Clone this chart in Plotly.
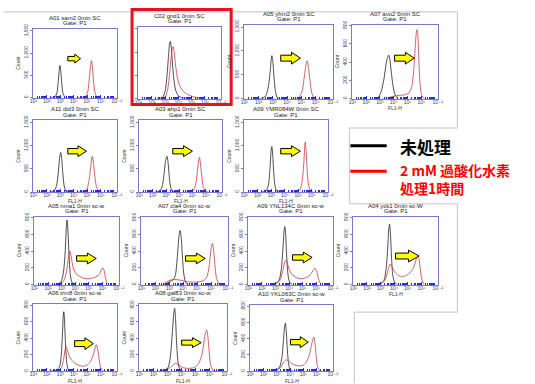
import plotly.graph_objects as go

W, H = 535, 384

# ---------------- data (FL1-H positions as log10 values, counts) ----------------
TITLES = [
    "A01 sam2 0min SC", "C02 gnd1 0min SC", "A05 yhm2 0min SC", "A07 avo2 0min SC",
    "A11 did3 0min SC", "A03 ahp1 0min SC", "A09 YMR084W 0min SC",
    "A05 nma1 0min sc-w", "A07 cla4 0min sc-w", "A09 YNL134C 0min sc-w", "A04 yck1 0min sc-W",
    "A06 trm8 0min sc-w", "A08 gal83 0min sc-w", "A10 YKL063C 0min sc-w",
]
GATE = "Gate: P1"

X_TICK_EXP = [1, 2, 3, 4, 5, 6, 7.2]
X_TICK_TEXT = ["10¹", "10²", "10³", "10⁴", "10⁵", "10⁶", "10⁷·²"]
Y_TICKS_BIG = [0, 500, 1000, 1500]
Y_TICKS_BIG_TEXT = ["0", "500", "1,000", "1,500"]
Y_TICKS_SMALL = [0, 200, 400, 600, 800]
Y_TICKS_SMALL_TEXT = ["0", "200", "400", "600", "800"]

A01_BLACK_X = [2.3, 2.6, 2.75, 2.85, 2.92, 2.97, 3.03, 3.1, 3.2, 3.35, 3.5]
A01_BLACK_Y = [0, 15, 110, 380, 640, 720, 600, 330, 90, 5, 0]
A01_RED_X = [4.3, 4.7, 4.9, 5.05, 5.15, 5.25, 5.31, 5.38, 5.45, 5.55, 5.7, 6.0]
A01_RED_Y = [0, 5, 30, 150, 420, 720, 830, 700, 430, 150, 20, 0]

C02_BLACK_X = [2.4, 2.8, 3.0, 3.15, 3.27, 3.35, 3.4, 3.47, 3.55, 3.65, 3.8, 4.0, 4.3, 4.8]
C02_BLACK_Y = [0, 20, 150, 500, 950, 1200, 1230, 1100, 800, 450, 180, 60, 15, 0]
C02_RED_X = [2.6, 3.0, 3.2, 3.35, 3.45, 3.55, 3.62, 3.7, 3.8, 3.95, 4.15, 4.4, 4.7, 5.0, 5.4, 5.9]
C02_RED_Y = [0, 30, 200, 550, 880, 1080, 1120, 980, 700, 420, 250, 150, 90, 50, 20, 0]

A05_BLACK_X = [2.0, 2.3, 2.5, 2.65, 2.78, 2.87, 2.93, 3.0, 3.08, 3.18, 3.3, 3.5]
A05_BLACK_Y = [0, 10, 60, 200, 480, 780, 900, 760, 440, 150, 20, 0]
A05_RED_X = [4.3, 4.6, 4.85, 5.05, 5.2, 5.33, 5.41, 5.5, 5.6, 5.72, 5.85, 6.1]
A05_RED_Y = [0, 5, 30, 150, 450, 720, 790, 650, 380, 130, 25, 0]

A07_BLACK_X = [2.6, 2.9, 3.1, 3.3, 3.45, 3.55, 3.64, 3.72, 3.82, 3.95, 4.1, 4.3]
A07_BLACK_Y = [0, 15, 80, 220, 380, 450, 476, 430, 300, 140, 40, 0]
A07_RED_X = [3.2, 3.6, 4.0, 4.4, 4.8, 5.1, 5.3, 5.45, 5.58, 5.66, 5.71, 5.76, 5.83, 5.92, 6.05, 6.25]
A07_RED_Y = [0, 10, 25, 35, 40, 60, 120, 300, 600, 740, 757, 680, 420, 150, 30, 0]

A11_BLACK_X = [2.2, 2.5, 2.7, 2.85, 2.95, 3.03, 3.1, 3.18, 3.28, 3.4, 3.6]
A11_BLACK_Y = [0, 15, 120, 420, 750, 850, 720, 420, 140, 20, 0]
A11_RED_X = [4.3, 4.7, 4.95, 5.1, 5.25, 5.33, 5.38, 5.45, 5.55, 5.68, 5.85, 6.1]
A11_RED_Y = [0, 10, 50, 200, 520, 730, 770, 650, 380, 120, 20, 0]

A03_BLACK_X = [2.2, 2.5, 2.7, 2.85, 2.97, 3.07, 3.15, 3.23, 3.33, 3.45, 3.65]
A03_BLACK_Y = [0, 15, 110, 380, 680, 770, 650, 380, 130, 20, 0]
A03_RED_X = [4.4, 4.85, 5.1, 5.25, 5.38, 5.47, 5.52, 5.58, 5.68, 5.8, 5.97, 6.2]
A03_RED_Y = [0, 10, 50, 200, 500, 710, 750, 640, 370, 120, 20, 0]

A09Y_BLACK_X = [2.3, 2.6, 2.78, 2.9, 2.98, 3.04, 3.1, 3.17, 3.27, 3.4, 3.6]
A09Y_BLACK_Y = [0, 20, 150, 500, 880, 980, 820, 460, 140, 20, 0]
A09Y_RED_X = [4.5, 4.95, 5.15, 5.3, 5.42, 5.48, 5.52, 5.57, 5.65, 5.75, 5.9, 6.1]
A09Y_RED_Y = [0, 10, 60, 250, 650, 980, 1080, 950, 550, 180, 30, 0]

NMA1_BLACK_X = [2.4, 2.8, 3.0, 3.15, 3.27, 3.35, 3.4, 3.46, 3.55, 3.65, 3.8, 4.0]
NMA1_BLACK_Y = [0, 10, 50, 170, 420, 700, 770, 650, 330, 100, 15, 0]
NMA1_RED_X = [2.6, 3.0, 3.2, 3.35, 3.5, 3.6, 3.7, 3.85, 4.05, 4.3, 4.6, 4.9, 5.2, 5.5,
              5.75, 5.92, 6.04, 6.12, 6.22, 6.35]
NMA1_RED_Y = [0, 15, 60, 150, 320, 400, 330, 200, 130, 100, 75, 70, 75, 90,
              120, 175, 200, 170, 80, 0]

CLA4_BLACK_X = [2.6, 2.9, 3.1, 3.3, 3.45, 3.58, 3.7, 3.78, 3.86, 3.95, 4.05, 4.2, 4.4]
CLA4_BLACK_Y = [0, 20, 40, 60, 120, 330, 580, 645, 560, 320, 120, 20, 0]
CLA4_RED_X = [2.5, 2.8, 3.1, 3.4, 3.7, 4.0, 4.3, 4.6, 4.9, 5.2, 5.5, 5.7, 5.85, 5.97,
              6.05, 6.1, 6.17, 6.27, 6.4, 6.6]
CLA4_RED_Y = [0, 30, 55, 60, 55, 45, 35, 30, 30, 35, 50, 90, 200, 380,
              470, 490, 430, 250, 70, 0]

YNL_BLACK_X = [2.6, 3.0, 3.25, 3.42, 3.55, 3.63, 3.68, 3.74, 3.82, 3.92, 4.05, 4.25]
YNL_BLACK_Y = [0, 10, 50, 180, 450, 650, 690, 600, 330, 110, 20, 0]
YNL_RED_X = [2.7, 3.1, 3.35, 3.55, 3.68, 3.75, 3.85, 4.0, 4.2, 4.5, 4.8, 5.1, 5.4, 5.65,
             5.82, 5.93, 6.02, 6.12, 6.25, 6.4]
YNL_RED_Y = [0, 15, 60, 180, 270, 290, 260, 180, 120, 85, 70, 75, 95, 140,
             180, 190, 160, 90, 25, 0]

YCK1_BLACK_X = [2.6, 3.0, 3.25, 3.4, 3.53, 3.61, 3.66, 3.72, 3.8, 3.9, 4.05, 4.25]
YCK1_BLACK_Y = [0, 10, 50, 180, 450, 680, 720, 620, 340, 110, 20, 0]
YCK1_RED_X = [2.7, 3.1, 3.35, 3.55, 3.7, 3.85, 4.05, 4.3, 4.6, 4.9, 5.15, 5.4, 5.58,
              5.7, 5.75, 5.82, 5.92, 6.05, 6.2]
YCK1_RED_Y = [0, 15, 60, 170, 245, 210, 150, 110, 95, 110, 140, 190, 280,
              340, 350, 310, 180, 50, 0]

TRM8_BLACK_X = [2.3, 2.7, 2.95, 3.08, 3.17, 3.22, 3.26, 3.31, 3.38, 3.48, 3.6, 3.8]
TRM8_BLACK_Y = [0, 10, 60, 220, 500, 680, 720, 620, 330, 100, 15, 0]
TRM8_RED_X = [2.5, 2.9, 3.1, 3.25, 3.35, 3.42, 3.5, 3.65, 3.85, 4.1, 4.4, 4.7, 5.0, 5.25,
              5.45, 5.6, 5.68, 5.76, 5.88, 6.0, 6.2]
TRM8_RED_Y = [0, 10, 50, 150, 260, 300, 270, 190, 130, 95, 70, 60, 75, 120,
              200, 290, 320, 280, 150, 40, 0]

GAL83_BLACK_X = [2.4, 2.8, 3.05, 3.2, 3.33, 3.44, 3.5, 3.56, 3.64, 3.74, 3.88, 4.1]
GAL83_BLACK_Y = [0, 10, 50, 180, 450, 700, 760, 650, 340, 110, 20, 0]
GAL83_RED_X = [2.5, 2.9, 3.2, 3.4, 3.57, 3.75, 4.0, 4.3, 4.6, 4.9, 5.15, 5.35, 5.5,
               5.62, 5.72, 5.78, 5.84, 5.93, 6.05, 6.25]
GAL83_RED_Y = [0, 15, 45, 80, 95, 80, 50, 35, 35, 45, 80, 150, 260,
               400, 480, 500, 450, 280, 80, 0]

YKL_BLACK_X = [2.5, 2.9, 3.2, 3.38, 3.5, 3.59, 3.64, 3.7, 3.78, 3.88, 4.0, 4.2]
YKL_BLACK_Y = [0, 10, 50, 170, 400, 560, 590, 500, 280, 90, 15, 0]
YKL_RED_X = [2.6, 3.0, 3.3, 3.5, 3.7, 3.9, 4.15, 4.45, 4.75, 5.0, 5.2, 5.4, 5.55,
             5.67, 5.74, 5.78, 5.84, 5.93, 6.05, 6.25]
YKL_RED_Y = [0, 10, 50, 110, 140, 120, 90, 70, 65, 75, 110, 180, 280,
             370, 410, 420, 380, 230, 60, 0]

LEGEND_LABELS = ["未処理", "2 mM 過酸化水素", "処理1時間"]

# ---------------- layout helpers (pixel boxes) ----------------
def px(x):
    return x / W


def py(y):
    return 1 - y / H


BLACK_SERIES = [
    (A01_BLACK_X, A01_BLACK_Y), (C02_BLACK_X, C02_BLACK_Y), (A05_BLACK_X, A05_BLACK_Y),
    (A07_BLACK_X, A07_BLACK_Y), (A11_BLACK_X, A11_BLACK_Y), (A03_BLACK_X, A03_BLACK_Y),
    (A09Y_BLACK_X, A09Y_BLACK_Y), (NMA1_BLACK_X, NMA1_BLACK_Y), (CLA4_BLACK_X, CLA4_BLACK_Y),
    (YNL_BLACK_X, YNL_BLACK_Y), (YCK1_BLACK_X, YCK1_BLACK_Y), (TRM8_BLACK_X, TRM8_BLACK_Y),
    (GAL83_BLACK_X, GAL83_BLACK_Y), (YKL_BLACK_X, YKL_BLACK_Y),
]
RED_SERIES = [
    (A01_RED_X, A01_RED_Y), (C02_RED_X, C02_RED_Y), (A05_RED_X, A05_RED_Y),
    (A07_RED_X, A07_RED_Y), (A11_RED_X, A11_RED_Y), (A03_RED_X, A03_RED_Y),
    (A09Y_RED_X, A09Y_RED_Y), (NMA1_RED_X, NMA1_RED_Y), (CLA4_RED_X, CLA4_RED_Y),
    (YNL_RED_X, YNL_RED_Y), (YCK1_RED_X, YCK1_RED_Y), (TRM8_RED_X, TRM8_RED_Y),
    (GAL83_RED_X, GAL83_RED_Y), (YKL_RED_X, YKL_RED_Y),
]

# plot boxes in pixels: (left, right, top, bottom)
BOXES = [
    (30, 115, 24, 94), (137, 221, 22, 95), (245, 335, 20, 95), (355, 442, 20, 95),
    (30, 115, 117, 190), (138, 222, 117, 190), (245, 330, 117, 190),
    (31, 117, 215, 284), (140, 228, 215, 284), (249, 335, 215, 284), (356, 442, 215, 284),
    (30, 115, 304, 372), (138, 227, 304, 372), (251, 335, 305, 372),
]
BIG_SCALE = [True, True, True, False, True, True, True,
             False, False, False, False, False, False, False]
SHOW_FL1H = [False, False, False, True, True, True, True,
             False, False, False, True, True, True, True]
SHOW_YLABELS = [True, False, True, True, True, True, True,
                True, True, True, True, True, True, True]
ARROWS = [
    (65, 50, 78, 59), None, (282, 48, 302, 60), (398, 48, 418, 60),
    (65, 143, 84, 154), (172, 143, 192, 154), (282, 143, 302, 154),
    (74, 252, 94, 263), (185, 252, 205, 263), (294, 251, 314, 262), (399, 249, 423, 261),
    (72, 338, 91, 350), (181, 338, 201, 348), (292, 337, 310, 348),
]

AXIS_COLOR = "#7a7ac8"
TICK_BLUE = "#2a2ad8"
RED_LINE = "#c83a40"
FONT = "Liberation Sans"

fig = go.Figure()
layout = dict(
    width=W, height=H, margin=dict(l=0, r=0, t=0, b=0),
    paper_bgcolor="white", plot_bgcolor="white", showlegend=False,
)
annotations = []
shapes = []

minor_vals = [m * 10 ** k for k in range(1, 7) for m in range(2, 10)]

for i in range(len(TITLES)):
    n = i + 1
    xa = "x" if n == 1 else f"x{n}"
    ya = "y" if n == 1 else f"y{n}"
    l, r, t, b = BOXES[i]
    big = BIG_SCALE[i]
    layout["xaxis" if n == 1 else f"xaxis{n}"] = dict(
        type="log", range=[1, 7.2], domain=[px(l), px(r)], anchor=ya,
        showline=True, mirror=True, linecolor=AXIS_COLOR, linewidth=1,
        showgrid=False, zeroline=False,
        ticks="inside", ticklen=3, tickcolor=TICK_BLUE, tickwidth=1,
        tickmode="array", tickvals=[10 ** e for e in X_TICK_EXP], ticktext=X_TICK_TEXT,
        tickfont=dict(family=FONT, size=5, color="#3a3a6a"),
        ticklabelstandoff=-2,
        minor=dict(ticks="inside", ticklen=2, tickcolor=TICK_BLUE, tickmode="array",
                   tickvals=minor_vals, showgrid=False),
        fixedrange=True,
    )
    layout["yaxis" if n == 1 else f"yaxis{n}"] = dict(
        range=[0, 1550] if big else [0, 810], domain=[py(b), py(t)], anchor=xa,
        showline=True, mirror=True, linecolor=AXIS_COLOR, linewidth=1,
        showgrid=False, zeroline=False,
        ticks="outside", ticklen=2, tickcolor=AXIS_COLOR,
        tickmode="array",
        tickvals=Y_TICKS_BIG if big else Y_TICKS_SMALL,
        ticktext=Y_TICKS_BIG_TEXT if big else Y_TICKS_SMALL_TEXT,
        showticklabels=SHOW_YLABELS[i], tickangle=-90,
        tickfont=dict(family=FONT, size=5, color="#3a3a6a"),
        title=dict(text="Count" if SHOW_YLABELS[i] else "", standoff=2,
                   font=dict(family=FONT, size=5, color="#333")),
        fixedrange=True,
    )
    bx, by = BLACK_SERIES[i]
    rx, ry = RED_SERIES[i]
    fig.add_trace(go.Scatter(x=[10 ** v for v in bx], y=by, mode="lines", xaxis=xa, yaxis=ya,
                             line=dict(color="#202020", width=0.8, shape="spline", smoothing=0.7),
                             hoverinfo="skip"))
    fig.add_trace(go.Scatter(x=[10 ** v for v in rx], y=ry, mode="lines", xaxis=xa, yaxis=ya,
                             line=dict(color=RED_LINE, width=0.8, shape="spline", smoothing=0.7),
                             hoverinfo="skip"))
    cx = (l + r) / 2
    annotations.append(dict(text=TITLES[i], x=px(cx), y=py(t - 11), xref="paper", yref="paper",
                            showarrow=False, font=dict(family=FONT, size=6, color="#222"),
                            xanchor="center", yanchor="middle"))
    annotations.append(dict(text=GATE, x=px(cx), y=py(t - 5.5), xref="paper", yref="paper",
                            showarrow=False, font=dict(family=FONT, size=6, color="#222"),
                            xanchor="center", yanchor="middle"))
    if SHOW_FL1H[i]:
        annotations.append(dict(text="FL1-H", x=px(cx), y=py(b + 9.5), xref="paper", yref="paper",
                                showarrow=False, font=dict(family=FONT, size=5, color="#333"),
                                xanchor="center", yanchor="middle"))
    if ARROWS[i] is not None:
        x0, y0, x1, y1 = ARROWS[i]
        xm = x0 + 0.55 * (x1 - x0)
        yc = (y0 + y1) / 2
        hb = (y1 - y0) * 0.25
        pts = [(x0, yc - hb), (xm, yc - hb), (xm, y0), (x1, yc), (xm, y1), (xm, yc + hb), (x0, yc + hb)]
        path = "M " + " L ".join(f"{px(a):.5f},{py(c):.5f}" for a, c in pts) + " Z"
        shapes.append(dict(type="path", path=path, xref="paper", yref="paper",
                           fillcolor="#ffff00", line=dict(color="#000000", width=1), layer="above"))

# outer grey frame
frame_pts = [(0, 7), (462, 7), (462, 125), (352, 125), (352, 202), (462, 202),
             (462, 312), (357, 312), (357, 384)]
shapes.append(dict(type="path",
                   path="M " + " L ".join(f"{px(a):.5f},{py(c):.5f}" for a, c in frame_pts),
                   xref="paper", yref="paper", line=dict(color="#c4c4c4", width=1), layer="below"))

# red highlight rectangle around C02
shapes.append(dict(type="rect", xref="paper", yref="paper", x0=px(130.5), x1=px(231.5), y0=py(101), y1=py(4.5),
                   line=dict(color="#e5141c", width=3), fillcolor="rgba(0,0,0,0)", layer="above"))

# legend
shapes.append(dict(type="line", xref="paper", yref="paper", x0=px(353), x1=px(390), y0=py(143), y1=py(143),
                   line=dict(color="#000000", width=3)))
shapes.append(dict(type="line", xref="paper", yref="paper", x0=px(353), x1=px(390), y0=py(169), y1=py(169),
                   line=dict(color="#ff0000", width=3)))
annotations.append(dict(text="<b>" + LEGEND_LABELS[0] + "</b>", x=px(401), y=py(144), xref="paper", yref="paper",
                        showarrow=False, xanchor="left", yanchor="middle",
                        font=dict(family="Noto Sans CJK JP", size=17, color="#000000")))
annotations.append(dict(text="<b>" + LEGEND_LABELS[1] + "<br>" + LEGEND_LABELS[2] + "</b>",
                        x=px(401), y=py(155), xref="paper", yref="paper",
                        showarrow=False, xanchor="left", yanchor="top", align="left",
                        font=dict(family="Noto Sans CJK JP", size=14, color="#ff0000")))

layout["annotations"] = annotations
layout["shapes"] = shapes
fig.update_layout(**layout)
fig.write_html(
    "out.html",
    config={"displayModeBar": False},
    post_script="document.body.style.margin='0px';document.body.style.overflow='hidden';"
                "document.documentElement.style.overflow='hidden';",
)
